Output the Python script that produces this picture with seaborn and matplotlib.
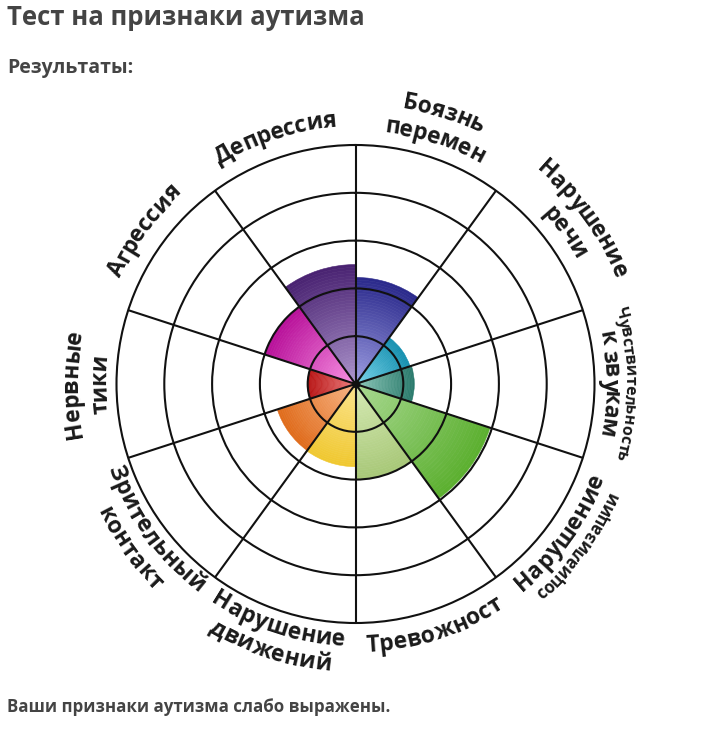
import numpy as np
import matplotlib
matplotlib.use("Agg")
import matplotlib.pyplot as plt
import seaborn as sns
from matplotlib import font_manager
from matplotlib.ft2font import FT2Font

# ---- data -------------------------------------------------------------
categories = [
    "Боязнь перемен", "Нарушение речи", "Чувствительность к звукам",
    "Нарушение социализации", "Тревожност", "Нарушение движений",
    "Зрительный контакт", "Нервные тики", "Агрессия", "Депрессия",
]
scores = [2.23, 1.2, 1.23, 2.96, 2.0, 1.73, 1.72, 1.0, 2.0, 2.5]
outer_colors = ["#2b2a8c", "#1590b0", "#2a7a6c", "#5cb030", "#a8c878",
                "#f0c830", "#e06c1c", "#b81414", "#b8109a", "#4a2372"]
inner_colors = ["#9c9ce2", "#78d4ea", "#8cc8b8", "#a8d890", "#d6eab4",
                "#fbe48c", "#f8b484", "#ec7c7c", "#f890e2", "#ac94cc"]
ring_ticks = [1, 2, 3, 4]
r_max = 5

title = "Тест на признаки аутизма"
subtitle = "Результаты:"
verdict = "Ваши признаки аутизма слабо выражены."

# label lines: (text, baseline radius px, font size, flipped)
label_lines = [
    [("Боязнь", 280, 16.5, False), ("перемен", 253, 16.5, False)],
    [("Нарушение", 280, 16.5, False), ("речи", 253, 16.5, False)],
    [("Чувствительность", 270, 11.5, False), ("к звукам", 249, 16.5, False)],
    [("Нарушение", 266, 16.5, True), ("социализации", 286, 12, True)],
    [("Тревожност", 268, 16.5, True)],
    [("Нарушение", 262, 16.5, True), ("движений", 288, 16.5, True)],
    [("Зрительный", 262, 16.5, True), ("контакт", 288, 16.5, True)],
    [("Нервные", 278, 16.5, False), ("тики", 250, 16.5, False)],
    [("Агрессия", 258, 16.5, False)],
    [("Депрессия", 258, 16.5, False)],
]

# ---- style ------------------------------------------------------------
sns.set_theme(style="white")
plt.rcParams["font.family"] = ["Open Sans", "DejaVu Sans"]

W, H, DPI = 715, 732, 100
fig = plt.figure(figsize=(W / DPI, H / DPI), dpi=DPI)
fig.patch.set_facecolor("white")

cx, cy, R = 355.5, 384.0, 239.0
ax = fig.add_axes([(cx - R) / W, (H - cy - R) / H, 2 * R / W, 2 * R / H],
                  projection="polar")
ax.set_theta_zero_location("N")
ax.set_theta_direction(-1)
ax.set_facecolor("white")

n = len(categories)
step = 2 * np.pi / n
thetas = np.arange(n) * step + step / 2
vals = np.array(scores)

# gradient bars: stack thin slices, light near centre, saturated at tip
nseg = 40
palettes = [sns.blend_palette([c_in, c_out], n_colors=nseg)
            for c_in, c_out in zip(inner_colors, outer_colors)]
for i in range(nseg):
    cols = [p[i] for p in palettes]
    ax.bar(thetas, vals / nseg, width=step, bottom=vals * i / nseg,
           color=cols, edgecolor=cols, linewidth=0.4, align="center", zorder=1)

ax.set_rlim(0, r_max)
ax.set_thetagrids(np.degrees(np.arange(n) * step), labels=[])
ax.set_rgrids(ring_ticks, labels=[])
ax.set_axisbelow(False)
ax.grid(True, color="#111111", linewidth=1.5)
ax.spines["polar"].set_color("#111111")
ax.spines["polar"].set_linewidth(1.5)
ax.scatter([0], [0], s=22, color="#111111", zorder=5)

# ---- curved labels ----------------------------------------------------
fp_bold = font_manager.FontProperties(family="Open Sans", weight="bold")
font_path = font_manager.findfont(fp_bold)


def advances(text, size):
    ft = FT2Font(font_path)
    ft.set_size(size, DPI)
    out = []
    for ch in text:
        g = ft.load_char(ord(ch))
        out.append(g.linearHoriAdvance / 65536.0)
    return out


def arc_text(text, center_deg, r_px, size, flipped):
    adv = advances(text, size)
    total = sum(adv)
    pos = np.cumsum([0] + adv[:-1]) + np.array(adv) / 2 - total / 2
    em = size * DPI / 72.0
    # spacing measured along the middle of the glyphs, not the baseline
    r_mid = r_px - 0.27 * em if flipped else r_px + 0.27 * em
    direction = -1 if flipped else 1
    for ch, p in zip(text, pos):
        phi = center_deg + direction * np.degrees(p / r_mid)
        rot = (180 - phi) if flipped else -phi
        ax.text(np.radians(phi), r_px / R * r_max, ch, fontsize=size,
                fontweight="bold", color="#1a1a1a", rotation=rot,
                rotation_mode="anchor", ha="center", va="baseline",
                clip_on=False, family=["Open Sans", "DejaVu Sans"])


for k, lines in enumerate(label_lines):
    for text, r_px, size, flipped in lines:
        arc_text(text, np.degrees(thetas[k]), r_px, size, flipped)

# ---- header / footer --------------------------------------------------
fig.text(7 / W, 1 - 25 / H, title, fontsize=18.5, fontweight="bold",
         color="#444444", ha="left", va="baseline")
fig.text(7 / W, 1 - 73 / H, subtitle, fontsize=14, fontweight="bold",
         color="#444444", ha="left", va="baseline")
fig.text(7 / W, 1 - 712 / H, verdict, fontsize=12.2, fontweight="bold",
         color="#444444", ha="left", va="baseline")

fig.savefig("out.png", dpi=DPI, facecolor="white")
